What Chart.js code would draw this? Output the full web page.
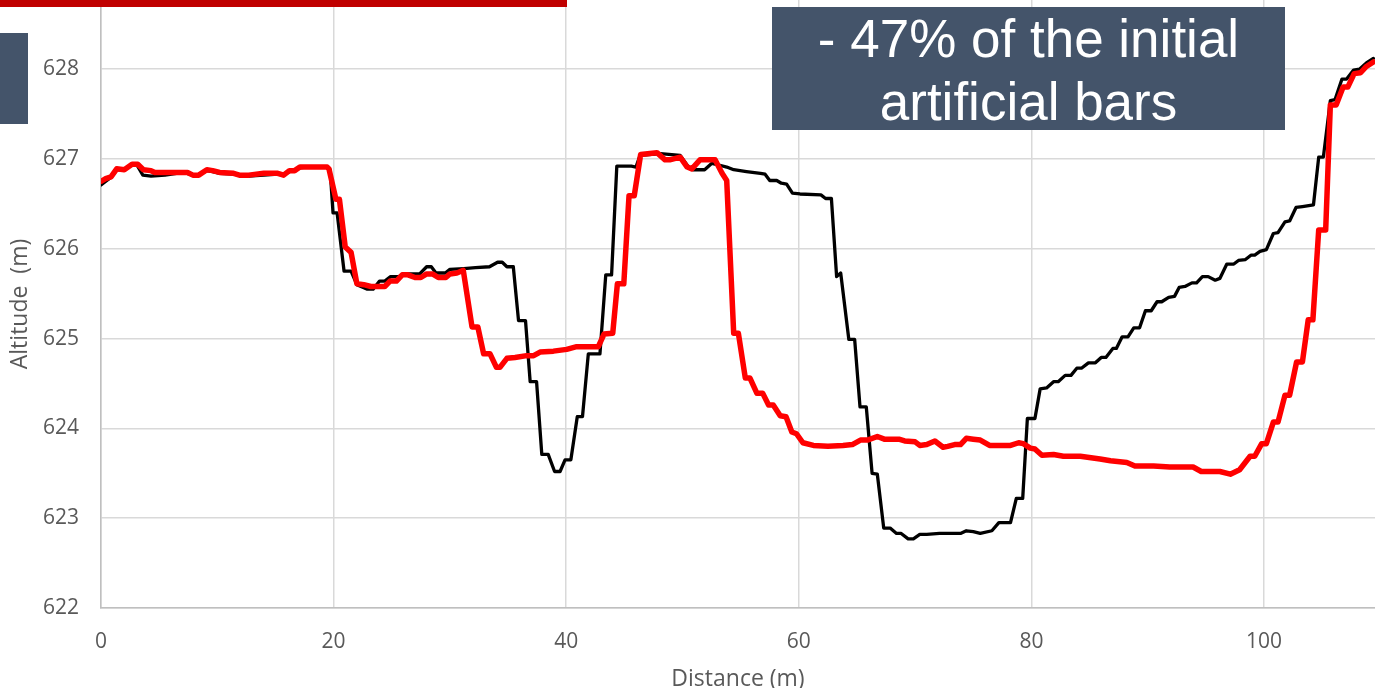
<!DOCTYPE html>
<html>
<head>
<meta charset="utf-8">
<script src="https://cdn.jsdelivr.net/npm/chart.js@4/dist/chart.umd.min.js"></script>
<style>
  html, body { margin: 0; padding: 0; background: #ffffff; overflow: hidden; }
  #wrap { position: relative; width: 1375px; height: 688px; }
  #redbar { position: absolute; left: 0; top: 0; width: 567px; height: 7px; background: #C00000; }
  #sidebox { position: absolute; left: 0; top: 33px; width: 28px; height: 91px; background: #44546A; }
  #note { position: absolute; left: 772px; top: 7px; width: 513px; height: 123px; background: #44546A;
          color: #ffffff; font-family: "Liberation Sans", Arial, sans-serif; font-size: 53px; line-height: 63px;
          text-align: center; }
</style>
</head>
<body>
<div id="wrap">
  <canvas id="c"></canvas>
  <div id="redbar"></div>
  <div id="sidebox"></div>
  <div id="note">- 47% of the initial<br>artificial bars</div>
</div>
<script>
// Distance (m) / altitude (m) of the initial profile (black)
const blackX = [0,0.5,0.9,1.35,2.0,2.6,3.1,3.6,4.3,5.5,6.5,7.4,7.9,8.4,9.1,9.6,10.2,11.4,11.9,12.7,14.0,15.2,15.7,16.2,16.65,17.1,17.6,19.45,19.7,19.95,20.3,20.9,21.5,22.0,22.9,23.4,23.95,24.4,24.9,25.6,26.0,27.4,28.0,28.4,28.8,29.6,30.0,31.2,32.2,33.4,34.1,34.5,34.9,35.45,35.9,36.5,36.9,37.45,37.9,38.45,39.0,39.47,39.9,40.4,40.95,41.4,41.9,42.9,43.4,43.9,44.35,45.6,46.0,46.35,48.1,49.8,50.4,50.9,51.9,52.5,53.2,53.8,54.4,55.5,56.7,57.1,57.5,58.1,58.5,58.95,59.45,60.1,61.9,62.3,62.8,63.25,63.6,64.3,64.8,65.26,65.8,66.3,66.75,67.3,67.85,68.4,68.8,69.4,69.85,70.4,71.0,72.1,73.9,74.4,75.0,75.6,76.6,77.2,78.2,78.7,79.25,79.65,80.3,80.75,81.3,81.9,82.3,82.9,83.4,83.9,84.3,84.9,85.5,86.0,86.4,87.0,87.3,87.8,88.3,88.8,89.3,89.8,90.3,90.8,91.2,91.8,92.3,92.7,93.2,93.8,94.2,94.7,95.2,95.8,96.2,96.8,97.4,97.8,98.4,98.9,99.2,99.65,100.2,100.8,101.2,101.8,102.2,102.75,103.3,104.25,104.7,105.1,105.7,106.1,106.7,107.1,107.7,108.2,108.8,109.4];
const blackY = [626.71,626.76,626.80,626.88,626.88,626.93,626.93,626.82,626.81,626.82,626.84,626.84,626.82,626.82,626.87,626.86,626.84,626.83,626.82,626.81,626.82,626.83,626.82,626.86,626.87,626.90,626.91,626.91,626.88,626.40,626.40,625.75,625.75,625.60,625.55,625.55,625.64,625.64,625.69,625.69,625.72,625.72,625.80,625.80,625.73,625.73,625.77,625.78,625.79,625.80,625.85,625.85,625.80,625.80,625.20,625.20,624.52,624.52,623.71,623.71,623.52,623.52,623.65,623.65,624.13,624.13,624.83,624.83,625.71,625.71,626.92,626.92,626.91,627.04,627.06,627.04,626.93,626.88,626.88,626.95,626.93,626.91,626.88,626.86,626.84,626.83,626.76,626.76,626.73,626.72,626.62,626.61,626.60,626.56,626.56,625.69,625.73,624.99,624.99,624.24,624.24,623.50,623.49,622.89,622.89,622.83,622.83,622.77,622.77,622.82,622.82,622.83,622.83,622.86,622.85,622.83,622.86,622.95,622.95,623.22,623.22,624.11,624.11,624.44,624.45,624.52,624.52,624.59,624.59,624.67,624.67,624.73,624.73,624.79,624.79,624.89,624.89,625.02,625.02,625.12,625.12,625.31,625.31,625.41,625.41,625.46,625.47,625.57,625.58,625.62,625.62,625.69,625.69,625.65,625.67,625.83,625.83,625.87,625.88,625.93,625.93,625.97,625.99,626.17,626.18,626.30,626.31,626.46,626.47,626.49,627.02,627.02,627.65,627.66,627.89,627.89,627.99,628.00,628.07,628.12];

// Profile after removal of 47% of the artificial bars (red)
const redX = [0,0.4,0.86,1.35,2.0,2.67,3.16,3.65,4.3,4.64,7.44,7.9,8.4,9.1,9.6,10.2,11.4,11.9,12.7,14.0,15.2,15.7,16.2,16.65,17.1,19.45,19.6,20.2,20.5,21.0,21.5,22.0,22.6,23.2,24.4,24.85,25.4,25.9,26.4,27.0,27.5,28.0,28.5,29.0,29.65,30.0,30.6,31.15,31.9,32.4,32.9,33.45,34.0,34.3,34.9,35.6,36.6,37.2,37.75,38.9,40.04,40.9,42.76,43.25,44.0,44.4,44.95,45.4,45.85,46.4,47.8,48.5,48.9,49.8,50.4,50.8,51.5,52.8,53.4,53.8,54.4,54.8,55.4,55.8,56.4,56.9,57.4,57.8,58.4,58.9,59.4,59.8,60.35,61.25,62.5,63.8,64.6,65.3,65.9,66.75,67.35,68.6,69.1,70.0,70.4,71.0,71.7,72.4,72.8,73.4,73.9,74.4,75.0,75.6,76.4,78.2,78.9,79.3,79.9,80.3,80.9,81.9,82.75,84.2,85.9,86.8,88.2,88.9,90.5,91.9,93.9,94.6,96.2,97.1,97.9,98.8,99.2,99.8,100.2,100.8,101.2,101.8,102.2,102.8,103.3,103.8,104.2,104.7,105.3,105.7,106.2,106.8,107.2,107.75,108.3,108.8,109.4];
const redY = [626.75,626.78,626.80,626.89,626.88,626.94,626.94,626.88,626.87,626.85,626.85,626.82,626.82,626.88,626.87,626.85,626.84,626.82,626.82,626.84,626.84,626.82,626.87,626.87,626.91,626.91,626.89,626.55,626.55,626.02,625.96,625.61,625.60,625.58,625.58,625.64,625.64,625.71,625.71,625.68,625.68,625.72,625.72,625.68,625.68,625.72,625.73,625.76,625.13,625.13,624.83,624.83,624.68,624.68,624.78,624.79,624.81,624.81,624.85,624.86,624.88,624.91,624.91,625.05,625.06,625.61,625.61,626.59,626.59,627.05,627.07,626.99,626.99,627.02,626.91,626.89,626.99,626.99,626.84,626.76,625.06,625.06,624.56,624.56,624.39,624.39,624.26,624.26,624.14,624.13,623.96,623.94,623.84,623.81,623.80,623.81,623.82,623.87,623.87,623.91,623.88,623.88,623.86,623.85,623.81,623.82,623.86,623.79,623.80,623.82,623.82,623.89,623.88,623.87,623.81,623.81,623.84,623.83,623.78,623.77,623.70,623.71,623.69,623.69,623.66,623.64,623.62,623.58,623.58,623.57,623.57,623.52,623.52,623.49,623.54,623.69,623.69,623.83,623.83,624.07,624.07,624.37,624.37,624.74,624.74,625.21,625.21,626.21,626.21,627.60,627.60,627.80,627.80,627.95,627.96,628.03,628.08];

const xTickValues = [0, 20, 40, 60, 80, 100];
const yTickValues = [622, 623, 624, 625, 626, 627, 628];
const xTitle = 'Distance (m)';
const yTitle = 'Altitude  (m)';

const toPoints = (xs, ys) => xs.map((x, i) => ({ x: x, y: ys[i] }));

const tickFont = { family: "'Open Sans', sans-serif", size: 21 };
const titleFont = { family: "'Open Sans', sans-serif", size: 23, lineHeight: 0.75 };

new Chart(document.getElementById('c'), {
  type: 'scatter',
  data: {
    datasets: [
      { label: 'after', data: toPoints(redX, redY), showLine: true, borderColor: '#FF0000', borderWidth: 5.5,
        pointRadius: 0, tension: 0, borderJoinStyle: 'round', borderCapStyle: 'round', order: 0 },
      { label: 'initial', data: toPoints(blackX, blackY), showLine: true, borderColor: '#000000', borderWidth: 3.3,
        pointRadius: 0, tension: 0, borderJoinStyle: 'round', borderCapStyle: 'round', order: 1 }
    ]
  },
  options: {
    responsive: true,
    maintainAspectRatio: false,
    animation: false,
    layout: { padding: 0 },
    plugins: { legend: { display: false }, tooltip: { enabled: false } },
    scales: {
      x: {
        type: 'linear', min: 0, max: 109.54,
        afterBuildTicks: (s) => { s.ticks = xTickValues.map(v => ({ value: v })); },
        afterFit: (s) => { s.height = 80; s.paddingLeft = 0; s.paddingRight = 0; },
        grid: { color: '#D9D9D9', lineWidth: 1.5, drawTicks: false },
        border: { color: '#BFBFBF', width: 1.5 },
        ticks: { color: '#595959', font: tickFont, padding: 21, maxRotation: 0 },
        title: { display: true, text: xTitle, color: '#595959', font: titleFont, padding: { top: 0, bottom: 0 } }
      },
      y: {
        type: 'linear', min: 622, max: 628.77,
        afterBuildTicks: (s) => { s.ticks = yTickValues.map(v => ({ value: v })); },
        afterFit: (s) => { s.width = 101; s.paddingTop = 0; s.paddingBottom = 0; },
        grid: { color: '#D9D9D9', lineWidth: 1.5, drawTicks: false },
        border: { color: '#BFBFBF', width: 1.5 },
        ticks: { color: '#595959', font: tickFont, padding: 22 },
        title: { display: true, text: yTitle, color: '#595959', font: titleFont, padding: { top: 12, bottom: 0 } }
      }
    }
  }
});
</script>
</body>
</html>
